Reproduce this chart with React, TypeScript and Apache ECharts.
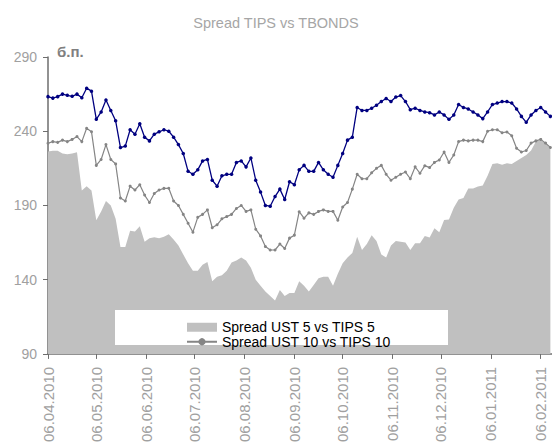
import React, { useEffect, useRef } from "react";
import * as echarts from "echarts";

const dates = [
  "2010-04-06","2010-04-09","2010-04-12","2010-04-15","2010-04-18","2010-04-21","2010-04-24","2010-04-27","2010-04-30",
  "2010-05-03","2010-05-06","2010-05-09","2010-05-12","2010-05-15","2010-05-18","2010-05-21","2010-05-24","2010-05-27","2010-05-30",
  "2010-06-02","2010-06-05","2010-06-08","2010-06-11","2010-06-14","2010-06-17","2010-06-20","2010-06-23","2010-06-26","2010-06-29",
  "2010-07-02","2010-07-05","2010-07-08","2010-07-11","2010-07-14","2010-07-17","2010-07-20","2010-07-23","2010-07-26","2010-07-29",
  "2010-08-01","2010-08-04","2010-08-07","2010-08-10","2010-08-13","2010-08-16","2010-08-19","2010-08-22","2010-08-25","2010-08-28","2010-08-31",
  "2010-09-03","2010-09-06","2010-09-09","2010-09-12","2010-09-15","2010-09-18","2010-09-21","2010-09-24","2010-09-27","2010-09-30",
  "2010-10-03","2010-10-06","2010-10-09","2010-10-12","2010-10-15","2010-10-18","2010-10-21","2010-10-24","2010-10-27","2010-10-30",
  "2010-11-02","2010-11-05","2010-11-08","2010-11-11","2010-11-14","2010-11-17","2010-11-20","2010-11-23","2010-11-26","2010-11-29",
  "2010-12-02","2010-12-05","2010-12-08","2010-12-11","2010-12-14","2010-12-17","2010-12-20","2010-12-23","2010-12-26","2010-12-29",
  "2011-01-01","2011-01-04","2011-01-07","2011-01-10","2011-01-13","2011-01-16","2011-01-19","2011-01-22","2011-01-25","2011-01-28","2011-01-31",
  "2011-02-03","2011-02-06","2011-02-09","2011-02-12",
];

// Spread UST 5 vs TIPS 5 (grey area)
const spread5 = [
  226.3,226.8,226.8,225,224.5,225,225.8,200,203,
  200,180,186,193,190,181,162,162,173,172.4,
  176,165.6,168,168.6,168,169,170.6,167,163,157,
  151,146,146,150,152,139,142,143,146,151.5,
  153,155,153,148,140,136,132,129,126,133,129,
  131,131,139,136,132,136.5,141,142,142,136,
  144,151,155,158,169,160,164,170,166,157,
  155,163,166,165.6,165,160,164.5,164.5,169.5,168.5,
  174.6,172,180.2,180.5,188.5,194,195,201.5,201.5,202.7,
  203.5,210,218,218.4,217.5,218.4,218,220,222,224,227,
  233,234,232,228,
];

// Spread UST 10 vs TIPS 10 (grey line)
const spread10 = [
  231.9,233,232.5,234,233,234.5,236.4,233,242,
  239.7,217,221,231,221,218,195,193,203,200.4,
  204,197,192,198,200.4,201.5,201.6,193,190,184,
  178,172,182,184,187,175,177,181,182.5,184,
  188,190,186,187,174,169.5,162.3,160,160,164,161,
  168,170,185.8,181.4,185,184,186,187,186,186,
  180,189,192,201,211,208,208,212,215,217,
  211,207,209,211,212.5,208,216,211.7,216.8,215.5,
  219,220.6,226,219,224,233,234,233.5,234,234,
  233,240,241,241,239,239.5,237,228.5,226,227,232,
  233.5,234.5,232,229,
];

// Spread UST 30 vs TIPS 30 (navy line)
const spread30 = [
  263.3,262.3,263.3,265,264.2,263.5,265,262.6,269,
  267,248,253,261,254,247,229,230,241,238,
  245,236,233.5,238,239.6,241,240,236,231,225,
  213,211,214,220,221,207,203,210,211,211,
  219,220,216,222,207,199,190,189.5,196,201,194,
  206,204,214,217,213,213,219,214,211,209,
  217,225,234,236,256,254,254,255.5,257.5,260,
  262,260,263,264,260,254.5,255.5,254,253,252.5,
  251,253,251,248,251,258,256,255,253,251,
  248.5,253,258,259,260,260,259,255,250,246,251,
  254,256,253,250,
];

const tickLabels = [
  "06.04.2010","06.05.2010","06.06.2010","06.07.2010","06.08.2010","06.09.2010",
  "06.10.2010","06.11.2010","06.12.2010","06.01.2011","06.02.2011",
];

const names = ["Spread UST 5 vs TIPS 5", "Spread UST 10 vs TIPS 10", "Spread UST 30 vs TIPS 30"];

const DAY = 86400000;
function parseIso(s: string): number {
  const [y, m, d] = s.split("-").map(Number);
  return Date.UTC(y, m - 1, d);
}
function parseRu(s: string): number {
  const [d, m, y] = s.split(".").map(Number);
  return Date.UTC(y, m - 1, d);
}
function pad(n: number) {
  return n < 10 ? "0" + n : "" + n;
}

export default function App() {
  const ref = useRef<HTMLDivElement>(null);
  useEffect(() => {
    if (!ref.current) return;
    const chart = echarts.init(ref.current, null, { renderer: "svg" });
    const t0 = parseIso(dates[0]);
    const toDay = (ms: number) => Math.round((ms - t0) / DAY);
    const xs = dates.map((d) => toDay(parseIso(d)));
    const ticks = tickLabels.map((s) => toDay(parseRu(s)));
    const fmt = (v: number) => {
      const d = new Date(t0 + Math.round(v) * DAY);
      return pad(d.getUTCDate()) + "." + pad(d.getUTCMonth() + 1) + "." + d.getUTCFullYear();
    };
    const pairs = (arr: number[]) => arr.map((v, i) => [xs[i], v]);
    const axisColor = "#6e6e6e";
    const labelColor = "#a0a0a0";
    chart.setOption({
      animation: false,
      title: {
        text: "Spread TIPS vs TBONDS",
        left: "center",
        top: 10,
        textStyle: {
          color: "#a6a6a6",
          fontSize: 14.5,
          fontWeight: "normal",
          fontFamily: "Liberation Sans",
        },
      },
      grid: { left: 48, right: 0, top: 57, bottom: 91, containLabel: false },
      xAxis: {
        type: "value",
        min: 0,
        max: toDay(parseIso("2011-02-13")),
        axisLine: { show: true, lineStyle: { color: axisColor, width: 1.5 } },
        axisTick: { show: true, customValues: ticks, length: 5, lineStyle: { color: axisColor } },
        axisLabel: {
          customValues: ticks,
          rotate: 90,
          formatter: (v: number) => fmt(v),
          color: labelColor,
          fontSize: 15,
          fontFamily: "Liberation Sans",
          margin: 13,
          hideOverlap: false,
        },
        splitLine: { show: false },
      },
      yAxis: {
        type: "value",
        min: 90,
        max: 290,
        interval: 50,
        axisLine: { show: true, lineStyle: { color: axisColor, width: 1.5 } },
        axisTick: { show: true, length: 5, lineStyle: { color: axisColor } },
        axisLabel: { color: labelColor, fontSize: 14, fontFamily: "Liberation Sans", margin: 11 },
        splitLine: { show: false },
      },
      legend: {
        show: true,
        left: 181,
        top: 315,
        orient: "vertical",
        itemGap: 0,
        itemWidth: 30,
        itemHeight: 9,
        textStyle: { color: "#000", fontSize: 14, fontFamily: "Liberation Sans", lineHeight: 14.5 },
        data: [
          { name: names[0], icon: "rect", itemStyle: { color: "#c0c0c0" } },
          { name: names[1] },
        ],
      },
      graphic: [
        {
          type: "rect",
          z: 3,
          shape: { x: 115, y: 310, width: 333, height: 35 },
          style: { fill: "#ffffff" },
        },
        {
          type: "text",
          x: 57,
          y: 44,
          z: 5,
          style: {
            text: "б.п.",
            fill: "#808080",
            fontSize: 15,
            fontWeight: "bold",
            fontFamily: "Liberation Sans",
          },
        },
      ],
      series: [
        {
          name: names[0],
          type: "line",
          data: pairs(spread5),
          symbol: "none",
          showSymbol: false,
          lineStyle: { width: 0 },
          itemStyle: { color: "#c0c0c0" },
          areaStyle: { color: "#c0c0c0", opacity: 1, origin: "start" },
          z: 1,
        },
        {
          name: names[1],
          type: "line",
          data: pairs(spread10),
          symbol: "circle",
          symbolSize: 3,
          showAllSymbol: true,
          lineStyle: { color: "#858585", width: 1.2 },
          itemStyle: { color: "#858585" },
          z: 2,
        },
        {
          name: names[2],
          type: "line",
          data: pairs(spread30),
          symbol: "circle",
          symbolSize: 3.5,
          showAllSymbol: true,
          lineStyle: { color: "#000080", width: 1.3 },
          itemStyle: { color: "#000080" },
          z: 2,
        },
      ],
    });
    return () => chart.dispose();
  }, []);
  return (
    <div
      ref={ref}
      style={{ position: "fixed", left: 0, top: 0, width: 552, height: 445, background: "#fff" }}
    />
  );
}
